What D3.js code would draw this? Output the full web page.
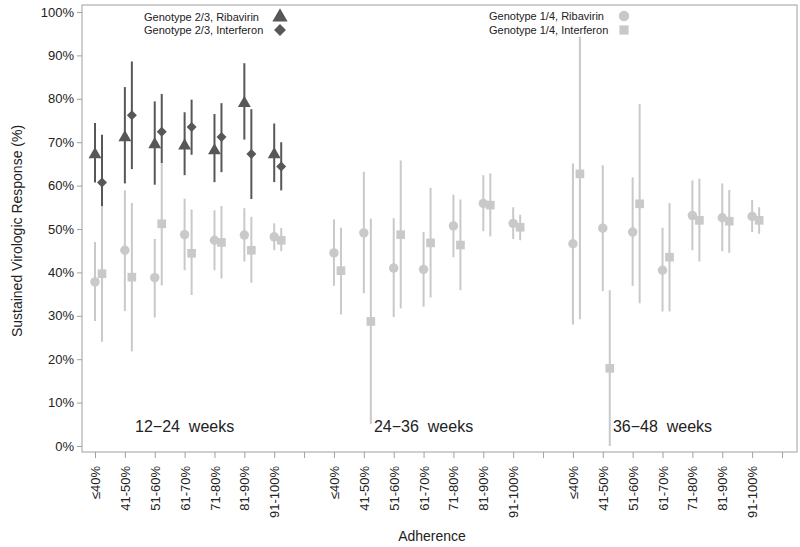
<!DOCTYPE html>
<html><head><meta charset="utf-8">
<script src="https://cdn.jsdelivr.net/npm/d3@7"></script>
<style>body{margin:0;background:#fff}svg{display:block;font-family:"Liberation Sans",Arial,sans-serif}</style>
</head><body><svg id="c" width="800" height="547"></svg>
<script>
const categories = ["≤40%","41-50%","51-60%","61-70%","71-80%","81-90%","91-100%"];
const periods = ["12\u221224  weeks","24\u221236  weeks","36\u221248  weeks"];
const yTicks = [0,10,20,30,40,50,60,70,80,90,100];

// Genotype 2/3 (12-24 weeks only)
const g23RibEst = [67.4, 71.3, 69.7, 69.4, 68.3, 79.2, 67.4];
const g23RibLo  = [60.7, 60.5, 60.2, 62.4, 60.8, 70.6, 60.8];
const g23RibHi  = [74.4, 82.7, 79.4, 76.9, 76.5, 88.2, 74.3];
const g23IfnEst = [60.7, 76.2, 72.4, 73.5, 71.2, 67.3, 64.4];
const g23IfnLo  = [55.3, 63.8, 65.2, 67.1, 63.1, 56.9, 58.9];
const g23IfnHi  = [71.7, 88.6, 81.1, 79.8, 79.0, 77.6, 70.0];

// Genotype 1/4 Ribavirin, per period
const g14RibEst = [[37.8, 45.1, 38.8, 48.7, 47.4, 48.6, 48.2],
                   [44.5, 49.1, 41.0, 40.7, 50.7, 55.9, 51.3],
                   [46.6, 50.2, 49.3, 40.5, 53.1, 52.6, 52.9]];
const g14RibLo  = [[28.8, 31.1, 29.6, 40.5, 40.5, 42.5, 45.1],
                   [36.9, 35.2, 29.7, 32.1, 43.5, 49.5, 47.7],
                   [28.0, 35.7, 36.9, 31.0, 45.1, 44.9, 49.3]];
const g14RibHi  = [[47.0, 58.9, 47.7, 57.0, 54.3, 54.8, 51.3],
                   [52.2, 63.2, 52.5, 49.3, 57.9, 62.4, 55.0],
                   [65.1, 64.7, 61.9, 50.3, 61.2, 60.5, 56.7]];
// Genotype 1/4 Interferon, per period
const g14IfnEst = [[39.7, 38.9, 51.2, 44.4, 46.9, 45.1, 47.4],
                   [40.4, 28.7, 48.7, 46.8, 46.3, 55.5, 50.4],
                   [62.7, 17.9, 55.8, 43.5, 52.0, 51.8, 52.0]];
const g14IfnLo  = [[24.0, 21.8, 37.0, 34.8, 38.6, 37.6, 44.9],
                   [30.3, 5.1, 31.7, 34.2, 35.9, 48.3, 47.4],
                   [29.2, 0.0, 32.9, 31.0, 42.5, 44.5, 48.9]];
const g14IfnHi  = [[55.3, 56.0, 65.2, 54.5, 55.3, 52.8, 50.2],
                   [50.3, 52.4, 65.8, 59.5, 56.8, 62.8, 53.3],
                   [94.3, 35.9, 78.8, 56.0, 61.6, 59.0, 55.0]];

const DARK = "#575757", LIGHT = "#c9c9c9", FRAME = "#a0a0a0";
const svg = d3.select("#c");
const L = 82, R = 797, T = 5, B = 452;
const x = d3.scaleLinear().domain([0, 23]).range([95, 782]);
const y = d3.scaleLinear().domain([0, 100]).range([446, 12]);
const OFF = 7;

// frame
svg.append("rect").attr("x", L).attr("y", T).attr("width", R-L).attr("height", B-T)
  .attr("fill", "none").attr("stroke", FRAME).attr("stroke-width", 1);

// y axis
const ya = svg.append("g").attr("transform", `translate(${L},0)`)
  .call(d3.axisLeft(y).tickValues(yTicks).tickFormat(d => d + "%").tickSize(5).tickPadding(3));
ya.select(".domain").remove();
ya.selectAll("line").attr("stroke", FRAME);
ya.selectAll("text").attr("font-size", 13).attr("fill", "#222").attr("font-family", "Liberation Sans, Arial, sans-serif");

// x axis
const posIdx = d3.range(24);
const xa = svg.append("g").attr("transform", `translate(0,${B})`)
  .call(d3.axisBottom(x).tickValues(posIdx).tickSize(6)
    .tickFormat(i => (i % 8) < 7 ? categories[i % 8] : ""));
xa.select(".domain").remove();
xa.selectAll("line").attr("stroke", FRAME);
xa.selectAll("text").attr("font-size", 13).attr("fill", "#222")
  .attr("font-family", "Liberation Sans, Arial, sans-serif")
  .attr("transform", "rotate(-90)").attr("text-anchor", "end")
  .attr("x", -14).attr("y", 0).attr("dy", "0.35em");

// axis titles
svg.append("text").attr("x", 432).attr("y", 541).attr("text-anchor", "middle")
  .attr("font-size", 14).attr("fill", "#222").text("Adherence");
svg.append("text").attr("transform", "translate(22,231) rotate(-90)").attr("text-anchor", "middle")
  .attr("font-size", 14).attr("fill", "#222").text("Sustained Virologic Response (%)");

// period labels
periods.forEach((p, g) => {
  svg.append("text").attr("x", x(g*8 + 3)).attr("y", 432).attr("text-anchor", "middle")
    .attr("font-size", 16).attr("fill", "#222").style("white-space", "pre").text(p);
});

// build records
const recs = [];
periods.forEach((p, g) => {
  categories.forEach((c, i) => {
    recs.push({series: "g14rib", pos: g*8+i, off: 0, est: g14RibEst[g][i], lo: g14RibLo[g][i], hi: g14RibHi[g][i]});
    recs.push({series: "g14ifn", pos: g*8+i, off: OFF, est: g14IfnEst[g][i], lo: g14IfnLo[g][i], hi: g14IfnHi[g][i]});
  });
});
categories.forEach((c, i) => {
  recs.push({series: "g23rib", pos: i, off: 0, est: g23RibEst[i], lo: g23RibLo[i], hi: g23RibHi[i]});
  recs.push({series: "g23ifn", pos: i, off: OFF, est: g23IfnEst[i], lo: g23IfnLo[i], hi: g23IfnHi[i]});
});
const color = s => s.startsWith("g23") ? DARK : LIGHT;
const shape = {
  g23rib: d3.symbol().type(d3.symbolTriangle).size(72),
  g23ifn: d3.symbol().type(d3.symbolSquare).size(50),
  g14rib: d3.symbol().type(d3.symbolCircle).size(70),
  g14ifn: d3.symbol().type(d3.symbolSquare).size(75)
};
const rot = s => s === "g23ifn" ? " rotate(45)" : "";
const order = ["g14rib","g14ifn","g23rib","g23ifn"];
order.forEach(s => {
  const d = recs.filter(r => r.series === s);
  const gg = svg.append("g");
  gg.selectAll("line").data(d).join("line")
    .attr("x1", r => x(r.pos) + r.off).attr("x2", r => x(r.pos) + r.off)
    .attr("y1", r => y(r.lo)).attr("y2", r => y(r.hi))
    .attr("stroke", color(s)).attr("stroke-width", 2);
  gg.selectAll("path").data(d).join("path")
    .attr("d", shape[s])
    .attr("transform", r => `translate(${x(r.pos) + r.off},${y(r.est) + (s==="g23rib"?1:0)})` + rot(s))
    .attr("fill", color(s));
});

// legends
const legends = [
  {label: "Genotype 2/3, Ribavirin", s: "g23rib", tx: 144, mx: 280, my: 17},
  {label: "Genotype 2/3, Interferon", s: "g23ifn", tx: 144, mx: 280, my: 30},
  {label: "Genotype 1/4, Ribavirin", s: "g14rib", tx: 489, mx: 624, my: 16},
  {label: "Genotype 1/4, Interferon", s: "g14ifn", tx: 489, mx: 624, my: 30}
];
const legSize = {g23rib: 100, g23ifn: 70, g14rib: 85, g14ifn: 85};
legends.forEach(l => {
  svg.append("text").attr("x", l.tx).attr("y", l.my).attr("dy", "0.35em")
    .attr("font-size", 11).attr("fill", "#222").text(l.label);
  svg.append("path").attr("d", d3.symbol().type(
      l.s==="g23rib"?d3.symbolTriangle:l.s==="g14rib"?d3.symbolCircle:d3.symbolSquare).size(legSize[l.s]))
    .attr("transform", `translate(${l.mx},${l.my})` + rot(l.s)).attr("fill", color(l.s));
});
</script></body></html>
